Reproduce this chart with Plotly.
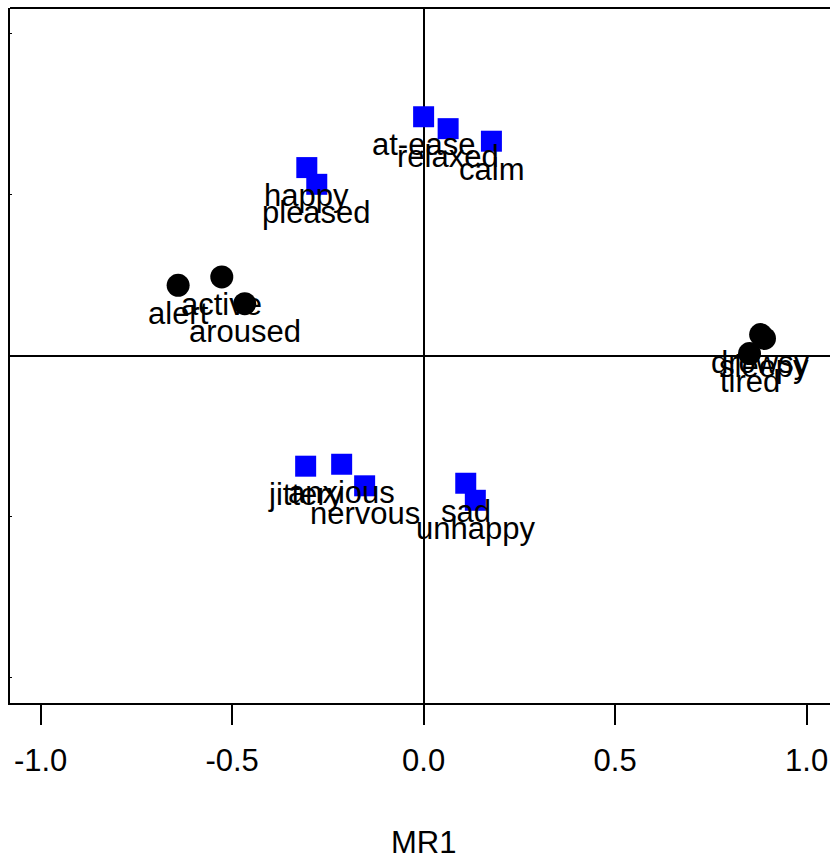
import plotly.graph_objects as go

# Factor loadings on MR1 (x) and MR2 (y) for each mood item
arousal_items = ["alert", "active", "aroused", "drowsy", "sleepy", "tired"]
arousal_mr1 = [-0.641, -0.527, -0.467, 0.880, 0.890, 0.851]
arousal_mr2 = [0.218, 0.244, 0.161, 0.065, 0.053, 0.006]

affect_items = ["at-ease", "relaxed", "calm", "happy", "pleased",
                "jittery", "anxious", "nervous", "sad", "unhappy"]
affect_mr1 = [0.000, 0.064, 0.177, -0.305, -0.279,
              -0.308, -0.214, -0.154, 0.110, 0.135]
affect_mr2 = [0.742, 0.705, 0.666, 0.584, 0.532,
              -0.344, -0.338, -0.405, -0.397, -0.450]

x_ticks = [-1.0, -0.5, 0.0, 0.5, 1.0]
x_tick_text = ["-1.0", "-0.5", "0.0", "0.5", "1.0"]
y_ticks = [-1.0, -0.5, 0.0, 0.5, 1.0]

FONT = "Liberation Sans, Arial, sans-serif"

fig = go.Figure()
fig.add_trace(go.Scatter(
    x=arousal_mr1, y=arousal_mr2, mode="markers",
    marker=dict(symbol="circle", size=23, color="black", line=dict(width=0)),
    showlegend=False, hoverinfo="text", text=arousal_items,
))
fig.add_trace(go.Scatter(
    x=affect_mr1, y=affect_mr2, mode="markers",
    marker=dict(symbol="square", size=21, color="#0000FF", line=dict(width=0)),
    showlegend=False, hoverinfo="text", text=affect_items,
))

# item labels drawn just below each point
annotations = []
for names, xs, ys in [(arousal_items, arousal_mr1, arousal_mr2),
                      (affect_items, affect_mr1, affect_mr2)]:
    for name, xv, yv in zip(names, xs, ys):
        annotations.append(dict(
            x=xv, y=yv, xref="x", yref="y", text=name, showarrow=False,
            xanchor="center", yanchor="middle", yshift=-28,
            font=dict(family=FONT, size=31, color="black"),
        ))

annotations.append(dict(
    x=(0 + 1.08) / (1.0611 + 1.08), y=-0.2014, xref="paper", yref="paper",
    text="MR1", showarrow=False, xanchor="center", yanchor="middle",
    font=dict(family=FONT, size=31, color="black"),
))

fig.update_layout(
    width=830, height=856,
    margin=dict(l=10, r=0, t=8, b=153),
    paper_bgcolor="white", plot_bgcolor="white",
    annotations=annotations,
    shapes=[dict(type="line", xref="paper", yref="paper",
                 x0=0, x1=1, y0=1, y1=1,
                 line=dict(color="black", width=2))],
    xaxis=dict(
        range=[-1.08, 1.0611], tickvals=x_ticks, ticktext=x_tick_text,
        ticks="outside", ticklen=20, tickwidth=2, tickcolor="black",
        ticklabelstandoff=9,
        tickfont=dict(family=FONT, size=31, color="black"),
        showgrid=False, showline=True, linecolor="black", linewidth=2,
        zeroline=True, zerolinecolor="black", zerolinewidth=2,
    ),
    yaxis=dict(
        range=[-1.08, 1.08], tickvals=y_ticks, showticklabels=False,
        ticks="inside", ticklen=2, tickwidth=1, tickcolor="black",
        showgrid=False, showline=True, linecolor="black", linewidth=2,
        zeroline=True, zerolinecolor="black", zerolinewidth=2,
    ),
)

fig.write_html("out.html")
